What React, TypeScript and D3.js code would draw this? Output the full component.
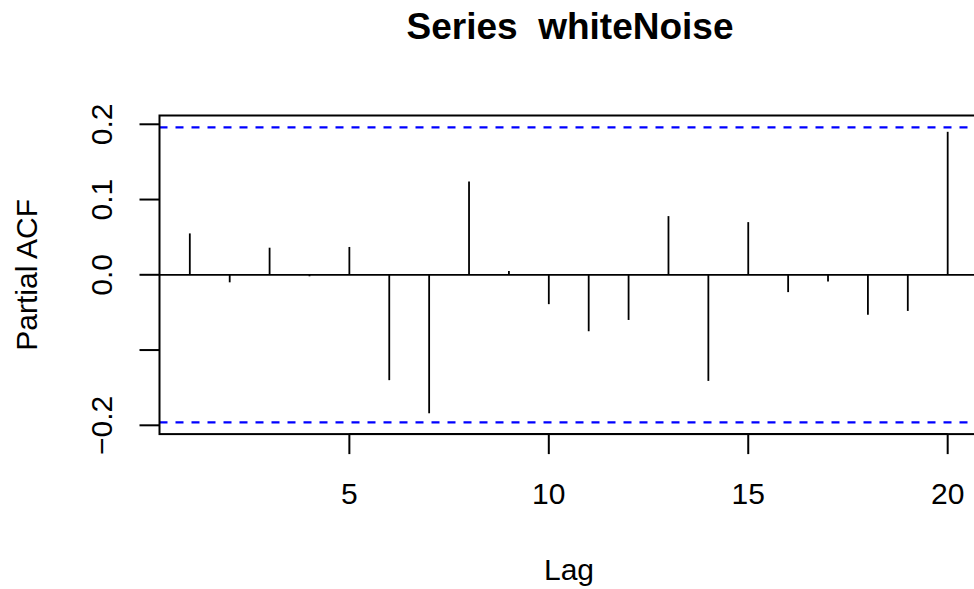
import React from "react";
import * as d3 from "d3";

const lags = [1, 2, 3, 4, 5, 6, 7, 8, 9, 10, 11, 12, 13, 14, 15, 16, 17, 18, 19, 20];
const pacfValues = [
  0.055, -0.010, 0.036, -0.002, 0.037, -0.140, -0.184, 0.124, 0.005, -0.039,
  -0.075, -0.060, 0.078, -0.141, 0.070, -0.023, -0.009, -0.053, -0.048, 0.190,
];
const confLimit = 0.196;
const xTicks = [5, 10, 15, 20];
const yTicks = [-0.2, -0.1, 0.0, 0.1, 0.2];
const yTickLabels = ["\u22120.2", "", "0.0", "0.1", "0.2"];
const titleText = "Series  whiteNoise";
const xLabel = "Lag";
const yLabel = "Partial ACF";

const W = 974;
const H = 589;
const FONT = "'Liberation Sans', Arial, Helvetica, sans-serif";

export default function App() {
  const xPad = (d3.max(lags)! - d3.min(lags)!) * 0.04;
  const x = d3
    .scaleLinear()
    .domain([d3.min(lags)! - xPad, d3.max(lags)! + xPad])
    .range([159.5, 978]);
  const yLo = Math.min(-confLimit, d3.min(pacfValues)!);
  const yHi = Math.max(confLimit, d3.max(pacfValues)!);
  const yPad = (yHi - yLo) * 0.04;
  const y = d3.scaleLinear().domain([yLo - yPad, yHi + yPad]).range([434.1, 115.5]);

  const [x0, x1] = x.range();
  const [yB, yT] = y.range();

  return (
    <svg
      width={W}
      height={H}
      viewBox={`0 0 ${W} ${H}`}
      style={{ position: "fixed", left: 0, top: 0, background: "#fff" }}
      fontFamily={FONT}
    >
      <rect x={0} y={0} width={W} height={H} fill="#fff" />
      <text
        x={570}
        y={39}
        textAnchor="middle"
        fontSize={37}
        fontWeight="bold"
        fill="#000"
        style={{ whiteSpace: "pre" }}
        xmlSpace="preserve"
      >
        {titleText}
      </text>

      {/* zero line */}
      <line x1={x0} x2={x1} y1={y(0)} y2={y(0)} stroke="#000" strokeWidth={1.8} />

      {/* confidence limits */}
      {[confLimit, -confLimit].map((c, i) => (
        <line
          key={i}
          x1={x0}
          x2={x1}
          y1={y(c)}
          y2={y(c)}
          stroke="#0000ff"
          strokeWidth={2.2}
          strokeDasharray="8,8"
        />
      ))}

      {/* spikes */}
      {lags.map((l, i) => (
        <line
          key={l}
          x1={x(l)}
          x2={x(l)}
          y1={y(0)}
          y2={y(pacfValues[i])}
          stroke="#000"
          strokeWidth={1.8}
        />
      ))}

      {/* box */}
      <rect
        x={x0}
        y={yT}
        width={x1 - x0}
        height={yB - yT}
        fill="none"
        stroke="#000"
        strokeWidth={2}
      />

      {/* x axis */}
      <line x1={x(xTicks[0])} x2={x(xTicks[xTicks.length - 1])} y1={yB} y2={yB} stroke="#000" strokeWidth={2} />
      {xTicks.map((t) => (
        <g key={t}>
          <line x1={x(t)} x2={x(t)} y1={yB} y2={yB + 20} stroke="#000" strokeWidth={2} />
          <text x={x(t)} y={504} textAnchor="middle" fontSize={30} fill="#000">
            {String(t)}
          </text>
        </g>
      ))}
      <text x={569} y={580} textAnchor="middle" fontSize={30} fill="#000">
        {xLabel}
      </text>

      {/* y axis */}
      {yTicks.map((t, i) => (
        <g key={i}>
          <line x1={x0 - 20} x2={x0} y1={y(t)} y2={y(t)} stroke="#000" strokeWidth={2} />
          {yTickLabels[i] && (
            <text
              transform={`translate(112, ${y(t)}) rotate(-90)`}
              textAnchor="middle"
              fontSize={30}
              fill="#000"
            >
              {yTickLabels[i]}
            </text>
          )}
        </g>
      ))}
      <text
        transform={`translate(37, ${(yB + yT) / 2}) rotate(-90)`}
        textAnchor="middle"
        fontSize={30}
        fill="#000"
      >
        {yLabel}
      </text>
    </svg>
  );
}
